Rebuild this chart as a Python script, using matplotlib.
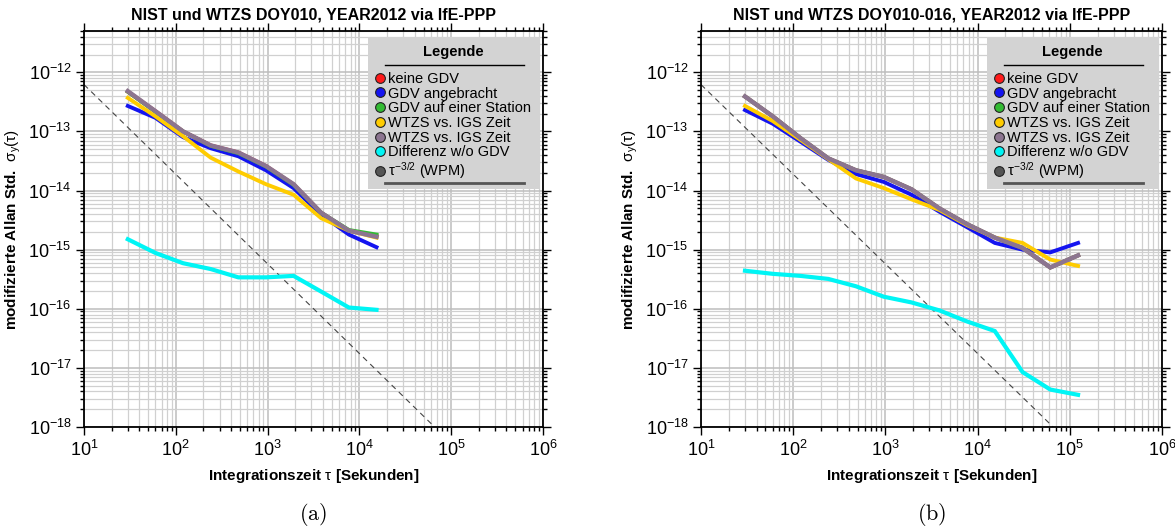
import matplotlib
matplotlib.use('Agg')
import matplotlib.pyplot as plt
from matplotlib.lines import Line2D
from matplotlib.ticker import LogLocator, NullFormatter

plt.rcParams['font.family'] = ['Liberation Sans', 'DejaVu Sans']
plt.rcParams['mathtext.fontset'] = 'custom'
plt.rcParams['mathtext.rm'] = 'Liberation Sans'
plt.rcParams['mathtext.it'] = 'Liberation Sans'
plt.rcParams['mathtext.bf'] = 'Liberation Sans:bold'
plt.rcParams['axes.unicode_minus'] = False

# --- data ---
tau_a = [30, 60, 120, 240, 480, 960, 1920, 3840, 7680, 15360]
red_a = [4.7e-13, 2.2e-13, 1.0e-13, 5.8e-14, 4.4e-14, 2.6e-14, 1.27e-14, 4.2e-15, 2.1e-15, 1.7e-15]
blue_a = [2.7e-13, 1.7e-13, 8.0e-14, 5.2e-14, 3.8e-14, 2.2e-14, 1.1e-14, 3.9e-15, 1.8e-15, 1.1e-15]
green_a = [4.7e-13, 2.15e-13, 1.0e-13, 5.7e-14, 4.3e-14, 2.55e-14, 1.25e-14, 4.2e-15, 2.15e-15, 1.8e-15]
yellow_a = [3.7e-13, 1.8e-13, 8.3e-14, 3.6e-14, 2.1e-14, 1.28e-14, 8.5e-15, 3.4e-15, 2.1e-15, 1.6e-15]
purple_a = [4.8e-13, 2.2e-13, 1.0e-13, 5.8e-14, 4.4e-14, 2.6e-14, 1.28e-14, 4.2e-15, 2.1e-15, 1.65e-15]
cyan_a = [1.5e-15, 8.8e-16, 5.9e-16, 4.7e-16, 3.4e-16, 3.4e-16, 3.6e-16, 1.95e-16, 1.05e-16, 9.6e-17]

tau_b = [30, 60, 120, 240, 480, 960, 1920, 3840, 7680, 15360, 30720, 61440, 122880]
red_b = [3.9e-13, 1.8e-13, 7.7e-14, 3.5e-14, 2.2e-14, 1.7e-14, 1.05e-14, 5.0e-15, 2.7e-15, 1.6e-15, 1.07e-15, 5.0e-16, 8.0e-16]
blue_b = [2.3e-13, 1.35e-13, 6.7e-14, 3.3e-14, 1.9e-14, 1.4e-14, 8.5e-15, 4.4e-15, 2.4e-15, 1.3e-15, 1.0e-15, 9.0e-16, 1.3e-15]
green_b = [3.9e-13, 1.8e-13, 7.7e-14, 3.5e-14, 2.2e-14, 1.7e-14, 1.05e-14, 5.0e-15, 2.7e-15, 1.6e-15, 1.07e-15, 5.0e-16, 8.0e-16]
yellow_b = [2.7e-13, 1.5e-13, 7.2e-14, 3.4e-14, 1.6e-14, 1.1e-14, 7.1e-15, 4.7e-15, 2.6e-15, 1.6e-15, 1.3e-15, 6.8e-16, 5.3e-16]
purple_b = [3.9e-13, 1.8e-13, 7.7e-14, 3.5e-14, 2.2e-14, 1.7e-14, 1.05e-14, 5.0e-15, 2.7e-15, 1.6e-15, 1.07e-15, 5.0e-16, 8.0e-16]
cyan_b = [4.4e-16, 3.9e-16, 3.6e-16, 3.2e-16, 2.4e-16, 1.6e-16, 1.28e-16, 9.4e-17, 6.1e-17, 4.2e-17, 8.5e-18, 4.3e-18, 3.5e-18]

# tau^-3/2 reference line (end points)
wpm_tau = [10, 66000]
wpm_sigma = [6.2e-13, 1.0e-18]

xticks = [1e1, 1e2, 1e3, 1e4, 1e5, 1e6]
yticks = [1e-18, 1e-17, 1e-16, 1e-15, 1e-14, 1e-13, 1e-12]

titles = ['NIST und WTZS DOY010, YEAR2012 via IfE-PPP',
          'NIST und WTZS DOY010-016, YEAR2012 via IfE-PPP']
captions = ['(a)', '(b)']
labels = ['keine GDV', 'GDV angebracht', 'GDV auf einer Station',
          'WTZS vs. IGS Zeit', 'WTZS vs. IGS Zeit', 'Differenz w/o GDV',
          r'$\tau^{-3/2}$ (WPM)']
colors = ['#ff1a1a', '#1414f0', '#33bb33', '#ffcc00', '#8c7590', '#00f5f5', '#555555']

fig = plt.figure(figsize=(11.75, 5.31), dpi=100)
ax_a = fig.add_axes([84 / 1175, 104 / 531, 459 / 1175, 396 / 531])
ax_b = fig.add_axes([701 / 1175, 104 / 531, 461 / 1175, 396 / 531])

panels = [
    (ax_a, tau_a, [red_a, blue_a, green_a, yellow_a, purple_a, cyan_a]),
    (ax_b, tau_b, [red_b, blue_b, green_b, yellow_b, purple_b, cyan_b]),
]

for i, (ax, tau, series) in enumerate(panels):
    ax.set_xscale('log')
    ax.set_yscale('log')
    ax.set_xlim(10, 1e6)
    ax.set_ylim(1e-18, 5e-12)

    ax.grid(which='major', color='#bdbdbd', lw=1.1)
    ax.grid(which='minor', color='#d0d0d0', lw=0.9)
    ax.set_axisbelow(True)

    ax.plot(wpm_tau, wpm_sigma, color='#444444', lw=0.8, ls=(0, (5, 4)))
    widths = [2.8, 2.8, 2.8, 2.8, 3.2, 3.0]
    for vals, c, w in zip(series, colors[:6], widths):
        ax.plot(tau, vals, color=c, lw=w, solid_joinstyle='miter')

    ax.set_xticks(xticks)
    ax.set_yticks(yticks)
    ax.xaxis.set_minor_locator(LogLocator(base=10, subs=range(2, 10), numticks=20))
    ax.yaxis.set_minor_locator(LogLocator(base=10, subs=range(2, 10), numticks=20))
    ax.xaxis.set_minor_formatter(NullFormatter())
    ax.yaxis.set_minor_formatter(NullFormatter())
    ax.tick_params(which='both', direction='out', top=True, right=True, width=1.0,
                   labelsize=13, color='black')
    ax.tick_params(which='major', length=6, pad=3)
    ax.tick_params(which='minor', length=3)
    for s in ax.spines.values():
        s.set_linewidth(1.3)

    ax.set_title(titles[i], fontsize=11.5, fontweight='bold', pad=8)
    ax.set_xlabel(r'Integrationszeit $\tau$ [Sekunden]', fontsize=11,
                  fontweight='bold', labelpad=5)
    ax.set_ylabel(r'modifizierte Allan Std.  $\sigma_y(\tau)$', fontsize=11,
                  fontweight='bold', labelpad=4)

    handles = [Line2D([], [], marker='o', ls='none', mfc=c, mec='#222222',
                      ms=7, mew=0.8) for c in colors]
    leg = ax.legend(handles, labels, title='Legende', loc='upper right',
                    bbox_to_anchor=(0.993, 0.985), fontsize=10.5,
                    title_fontproperties={'weight': 'bold', 'size': 10.5},
                    handlelength=0.6, handletextpad=0.25, labelspacing=0.05,
                    borderpad=0.5, fancybox=False, framealpha=1,
                    facecolor='#d3d3d3', edgecolor='none', borderaxespad=0)
    # room for the rule under the title and at the bottom
    leg._legend_box.sep = 9
    leg._legend_box.pad = 6

    cx = ax.get_position().x0 + ax.get_position().width / 2
    fig.text(cx, 17 / 531, r'$\mathrm{%s}$' % captions[i], ha='center', va='center',
             fontsize=16, math_fontfamily='cm')

# decorative lines in the legend box
fig.canvas.draw()
renderer = fig.canvas.get_renderer()
inv = fig.transFigure.inverted()
for ax in (ax_a, ax_b):
    leg = ax.get_legend()
    fb = leg.get_frame().get_window_extent()
    tb = leg.get_title().get_window_extent()
    hb = leg._legend_handle_box.get_window_extent(renderer)
    (x0, y0), (x1, y1) = inv.transform([[fb.x0, fb.y0], [fb.x1, fb.y1]])
    _, ty = inv.transform([[0, (tb.y0 + hb.y1) / 2 + 1]])[0]
    w = x1 - x0
    fig.add_artist(Line2D([x0 + 0.1 * w, x0 + 0.91 * w], [ty, ty],
                          color='black', lw=1.0))
    _, by = inv.transform([[0, hb.y0 - 2]])[0]
    fig.add_artist(Line2D([x0 + 0.1 * w, x0 + 0.91 * w], [by, by],
                          color='#555555', lw=2.0))

fig.savefig('out.png', dpi=100)
